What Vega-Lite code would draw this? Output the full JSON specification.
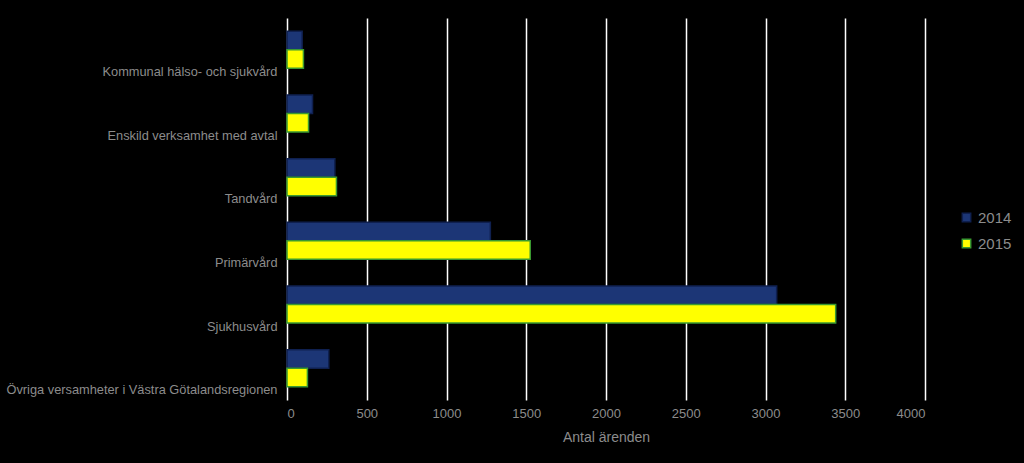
{
  "$schema": "https://vega.github.io/schema/vega-lite/v6.json",
  "background": "#000000",
  "padding": {"left": 5, "top": 18, "right": 14, "bottom": 22},
  "width": 638,
  "height": 382,
  "data": {
    "values": [
      {"kategori": "Kommunal hälso- och sjukvård", "år": "2014", "antal": 95},
      {"kategori": "Kommunal hälso- och sjukvård", "år": "2015", "antal": 103},
      {"kategori": "Enskild verksamhet med avtal", "år": "2014", "antal": 160},
      {"kategori": "Enskild verksamhet med avtal", "år": "2015", "antal": 135},
      {"kategori": "Tandvård", "år": "2014", "antal": 300},
      {"kategori": "Tandvård", "år": "2015", "antal": 310},
      {"kategori": "Primärvård", "år": "2014", "antal": 1275},
      {"kategori": "Primärvård", "år": "2015", "antal": 1525},
      {"kategori": "Sjukhusvård", "år": "2014", "antal": 3070},
      {"kategori": "Sjukhusvård", "år": "2015", "antal": 3440},
      {"kategori": "Övriga versamheter i Västra Götalandsregionen", "år": "2014", "antal": 262},
      {"kategori": "Övriga versamheter i Västra Götalandsregionen", "år": "2015", "antal": 128}
    ]
  },
  "config": {
    "view": {"stroke": null},
    "font": "Liberation Sans"
  },
  "mark": {"type": "bar", "strokeWidth": 1.5},
  "encoding": {
    "y": {
      "field": "kategori",
      "type": "nominal",
      "sort": null,
      "scale": {"paddingInner": 0.42, "paddingOuter": 0.21},
      "axis": {
        "title": null,
        "domain": false,
        "ticks": false,
        "labelOffset": 22,
        "labelPadding": 10,
        "labelColor": "#8c8c8c",
        "labelFontSize": 12.8,
        "labelLimit": 400
      }
    },
    "x": {
      "field": "antal",
      "type": "quantitative",
      "scale": {"domain": [0, 4000], "nice": false},
      "axis": {
        "title": "Antal ärenden",
        "titleColor": "#8c8c8c",
        "titleFontSize": 14,
        "titleFontWeight": "normal",
        "titlePadding": 10,
        "format": "d",
        "values": [0, 500, 1000, 1500, 2000, 2500, 3000, 3500, 4000],
        "domain": false,
        "ticks": false,
        "labelPadding": 7,
        "labelColor": "#8c8c8c",
        "labelFontSize": 13,
        "gridColor": "#ffffff",
        "gridWidth": 1.5,
        "gridOpacity": 1
      }
    },
    "yOffset": {"field": "år", "type": "nominal", "sort": ["2014", "2015"]},
    "color": {
      "field": "år",
      "type": "nominal",
      "scale": {"domain": ["2014", "2015"], "range": ["#1c3676", "#ffff00"]},
      "legend": {
        "title": null,
        "orient": "none",
        "legendX": 672,
        "legendY": 192,
        "symbolType": "square",
        "symbolSize": 70,
        "labelColor": "#8c8c8c",
        "labelFontSize": 15,
        "rowPadding": 10,
        "symbolStrokeWidth": 1.5
      }
    },
    "stroke": {
      "field": "år",
      "type": "nominal",
      "scale": {"domain": ["2014", "2015"], "range": ["#0f2050", "#3a9a30"]},
      "legend": null
    }
  }
}
